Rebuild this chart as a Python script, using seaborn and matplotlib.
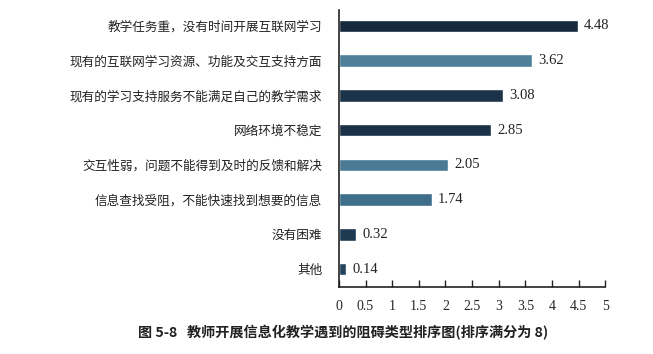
import matplotlib
matplotlib.use("Agg")
import matplotlib.pyplot as plt
import pandas as pd
import seaborn as sns

# 数据
categories = [
    "教学任务重，没有时间开展互联网学习",
    "现有的互联网学习资源、功能及交互支持方面",
    "现有的学习支持服务不能满足自己的教学需求",
    "网络环境不稳定",
    "交互性弱，问题不能得到及时的反馈和解决",
    "信息查找受阻，不能快速找到想要的信息",
    "没有困难",
    "其他",
]
scores = [4.48, 3.62, 3.08, 2.85, 2.05, 1.74, 0.32, 0.14]
bar_colors = ["#15293d", "#4f7f99", "#1b3348", "#1a3147",
              "#4a7a94", "#3f6f8a", "#1d3a52", "#25445d"]
x_ticks = [0, 0.5, 1, 1.5, 2, 2.5, 3, 3.5, 4, 4.5, 5]
x_tick_labels = ["0", "0.5", "1", "1.5", "2", "2.5", "3", "3.5", "4", "4.5", "5"]
caption = "图 5-8   教师开展信息化教学遇到的阻碍类型排序图(排序满分为 8)"

df = pd.DataFrame({"类型": categories, "得分": scores})

sns.set_theme(style="white")
plt.rcParams["font.family"] = ["Noto Sans CJK SC", "DejaVu Sans"]

fig = plt.figure(figsize=(6.53, 3.54), dpi=100)
ax = fig.add_axes([0.519, 0.189, 0.408, 0.783])

sns.barplot(data=df, x="得分", y="类型", hue="类型", palette=bar_colors,
            legend=False, width=0.36, ax=ax, saturation=1)

ax.set_xlim(0, 5)
ax.set_ylim(7.52, -0.46)
ax.set_xticks(x_ticks)
ax.set_xticklabels(x_tick_labels, family="Liberation Serif", fontsize=10)
ax.tick_params(axis="x", direction="in", length=5, width=1, color="#222222",
               pad=9, bottom=True)
ax.tick_params(axis="y", length=0, pad=12, labelsize=9.1, labelcolor="#222222")
ax.set_xlabel("")
ax.set_ylabel("")

for s in ["top", "right"]:
    ax.spines[s].set_visible(False)
for s in ["left", "bottom"]:
    ax.spines[s].set_color("#222222")
    ax.spines[s].set_linewidth(1.2)

# 数值标签
for i, v in enumerate(scores):
    ax.text(v + 0.12, i, f"{v:.2f}", va="center", ha="left",
            family="Liberation Serif", fontsize=10.5, color="#222222")

fig.text(0.525, 0.06, caption, ha="center", va="center", fontsize=10.2,
         fontweight="bold", color="#222222")

fig.savefig("out.png", dpi=100, facecolor="white")
